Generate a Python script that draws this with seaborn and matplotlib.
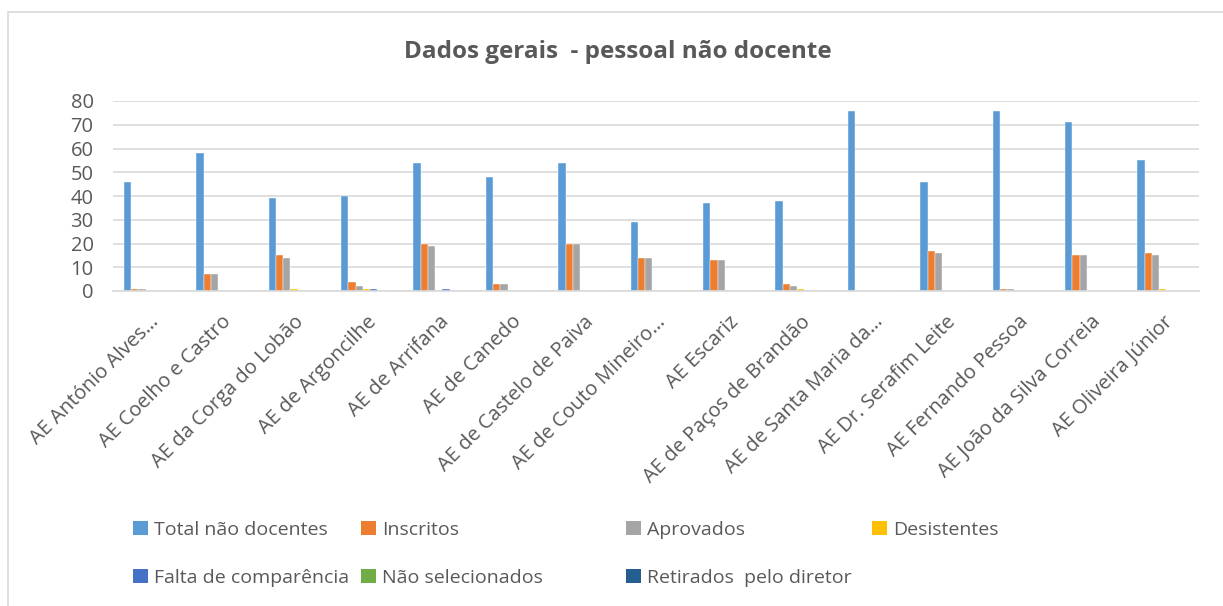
import seaborn as sns
import matplotlib.pyplot as plt
import pandas as pd
from matplotlib.patches import Rectangle, Patch

sns.set_style('white')
plt.rcParams['font.family'] = ['Open Sans', 'DejaVu Sans']

escolas = ['AE António Alves…', 'AE Coelho e Castro', 'AE da Corga do Lobão',
           'AE de Argoncilhe', 'AE de Arrifana', 'AE de Canedo',
           'AE de Castelo de Paiva', 'AE de Couto Mineiro…', 'AE Escariz',
           'AE de Paços de Brandão', 'AE de Santa Maria da…', 'AE Dr. Serafim Leite',
           'AE Fernando Pessoa', 'AE João da Silva Correia', 'AE Oliveira Júnior']

total = [46, 58, 39, 40, 54, 48, 54, 29, 37, 38, 76, 46, 76, 71, 55]
inscritos = [1, 7, 15, 4, 20, 3, 20, 14, 13, 3, 0, 17, 1, 15, 16]
aprovados = [1, 7, 14, 2, 19, 3, 20, 14, 13, 2, 0, 16, 1, 15, 15]
desistentes = [0, 0, 1, 1, 0, 0, 0, 0, 0, 1, 0, 0, 0, 0, 1]
falta = [0, 0, 0, 1, 1, 0, 0, 0, 0, 0, 0, 0, 0, 0, 0]
nao_selecionados = [0] * 15
retirados = [0] * 15

series = {
    'Total não docentes': total,
    'Inscritos': inscritos,
    'Aprovados': aprovados,
    'Desistentes': desistentes,
    'Falta de comparência': falta,
    'Não selecionados': nao_selecionados,
    'Retirados  pelo diretor': retirados,
}
cores = ['#5B9BD5', '#ED7D31', '#A5A5A5', '#FFC000', '#4472C4', '#70AD47', '#255E91']

df = pd.DataFrame(series, index=escolas).reset_index(names='escola')
df = df.melt(id_vars='escola', var_name='serie', value_name='valor')

fig = plt.figure(figsize=(12.23, 6.06), dpi=100)
ax = fig.add_axes([113 / 1223, 1 - 291 / 606, (1199 - 113) / 1223, 190 / 606])

sns.barplot(data=df, x='escola', y='valor', hue='serie', palette=cores,
            hue_order=list(series.keys()), width=0.7, saturation=1,
            edgecolor='white', linewidth=0.3, ax=ax, legend=False)

ax.set_ylim(0, 80)
ax.set_xlim(-0.5, len(escolas) - 0.5)
ax.set_yticks(range(0, 81, 10))
ax.yaxis.grid(True, color='#D9D9D9', linewidth=1.2)
ax.set_axisbelow(True)
for s in ['top', 'right', 'left']:
    ax.spines[s].set_visible(False)
ax.spines['bottom'].set_color('#D9D9D9')
ax.spines['bottom'].set_linewidth(1.2)
ax.set_xlabel('')
ax.set_ylabel('')
ax.tick_params(axis='both', length=0, colors='#595959', labelsize=14.5)
ax.tick_params(axis='y', pad=14)
ax.tick_params(axis='x', pad=15)
plt.setp(ax.get_xticklabels(), rotation=45, ha='right', rotation_mode='anchor')

fig.text(618 / 1223, 1 - 52 / 606, 'Dados gerais  - pessoal não docente',
         ha='center', va='center', fontsize=17.5, fontweight='bold', color='#595959')

# legenda em 4 colunas, como no Excel
nomes = list(series.keys())
colunas = [[0, 4], [1, 5], [2, 6], [3]]
xs = [133, 361, 626, 872]
for x, idx in zip(xs, colunas):
    handles = [Patch(facecolor=cores[i], edgecolor='none') for i in idx]
    fig.legend(handles, [nomes[i] for i in idx], loc='upper left',
               bbox_to_anchor=(x / 1223, 1 - 521 / 606), frameon=False,
               fontsize=14, labelcolor='#595959', handlelength=0.75,
               handleheight=0.75, handletextpad=0.35, labelspacing=1.55,
               borderaxespad=0, borderpad=0)

fig.patches.append(Rectangle((8 / 1223, -0.1), 1.2, 1 - 12 / 606 + 0.1,
                             transform=fig.transFigure, fill=False,
                             edgecolor='#D9D9D9', linewidth=1.2))

fig.savefig('out.png', dpi=100, facecolor='white')
